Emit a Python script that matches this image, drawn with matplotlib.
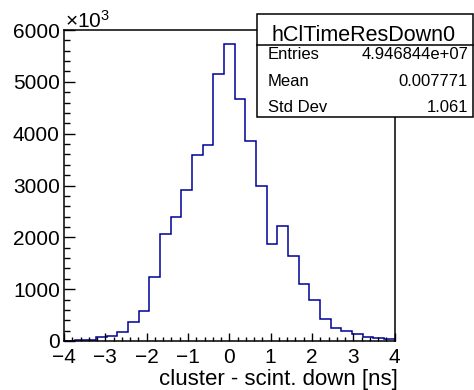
import numpy as np
import matplotlib
matplotlib.use("Agg")
import matplotlib.pyplot as plt
from matplotlib.patches import Rectangle
from matplotlib.ticker import MultipleLocator

plt.rcParams['font.family'] = ['Liberation Sans', 'DejaVu Sans']
plt.rcParams['mathtext.fontset'] = 'custom'
plt.rcParams['mathtext.rm'] = 'Liberation Sans'

# histogram contents, in units of 10^3 entries, 31 bins from -4 to 4 ns
x_min, x_max, n_bins = -4.0, 4.0, 31
counts = [8, 19, 28, 71, 100, 174, 368, 581, 1226, 2058, 2393, 2910, 3581, 3787,
          5148, 5729, 4677, 3858, 3000, 1877, 2226, 1645, 1103, 794, 419, 250,
          185, 129, 84, 62, 32]
x_ticks = [-4, -3, -2, -1, 0, 1, 2, 3, 4]
y_ticks = [0, 1000, 2000, 3000, 4000, 5000, 6000]
x_title = "cluster - scint. down [ns]"
hist_name = "hClTimeResDown0"
stat_names = ["Entries", "Mean", "Std Dev"]
stat_values = ["4.946844e+07", "0.007771", "1.061"]

W, H = 474, 390
fig = plt.figure(figsize=(W / 100, H / 100), dpi=100)
ax = fig.add_axes([64 / W, 1 - 341 / H, 330.7 / W, 311 / H])

edges = np.linspace(x_min, x_max, n_bins + 1)
ax.stairs(counts, edges, color='#000099', lw=1.1)

ax.set_xlim(x_min, x_max)
ax.set_ylim(0, 6000)
ax.set_xticks(x_ticks)
ax.set_yticks(y_ticks)
ax.xaxis.set_minor_locator(MultipleLocator(0.2))
ax.yaxis.set_minor_locator(MultipleLocator(200))
ax.tick_params(axis='x', which='major', direction='in', length=6, width=1, labelsize=15, pad=5)
ax.tick_params(axis='x', which='minor', direction='in', length=3, width=1)
ax.tick_params(axis='y', which='major', direction='in', length=8, width=1, labelsize=15, pad=3)
ax.tick_params(axis='y', which='minor', direction='in', length=4.3, width=1)
for s in ax.spines.values():
    s.set_linewidth(1.1)

fig.text(398 / W, 1 - 385 / H, x_title, ha='right', va='baseline', fontsize=16)
fig.text(65 / W, 1 - 27.5 / H, r'$\mathregular{\times10^{3}}$', ha='left', va='baseline', fontsize=15)

# stats box
bx0, bx1, by0, by1, bsep = 257, 473, 14, 117, 45
fig.add_artist(Rectangle((bx0 / W, 1 - by1 / H), (bx1 - bx0) / W, (by1 - by0) / H,
                         transform=fig.transFigure, facecolor='white', edgecolor='black', lw=1.1))
fig.add_artist(plt.Line2D([bx0 / W, bx1 / W], [1 - bsep / H, 1 - bsep / H],
                          transform=fig.transFigure, color='black', lw=1.1))
fig.text(364 / W, 1 - 41 / H, hist_name, ha='center', va='baseline', fontsize=15.5)
for name, val, yb in zip(stat_names, stat_values, [59.3, 86, 111.7]):
    fig.text(268 / W, 1 - yb / H, name, ha='left', va='baseline', fontsize=12)
    fig.text(468 / W, 1 - yb / H, val, ha='right', va='baseline', fontsize=12)

fig.savefig("out.png", dpi=100)
